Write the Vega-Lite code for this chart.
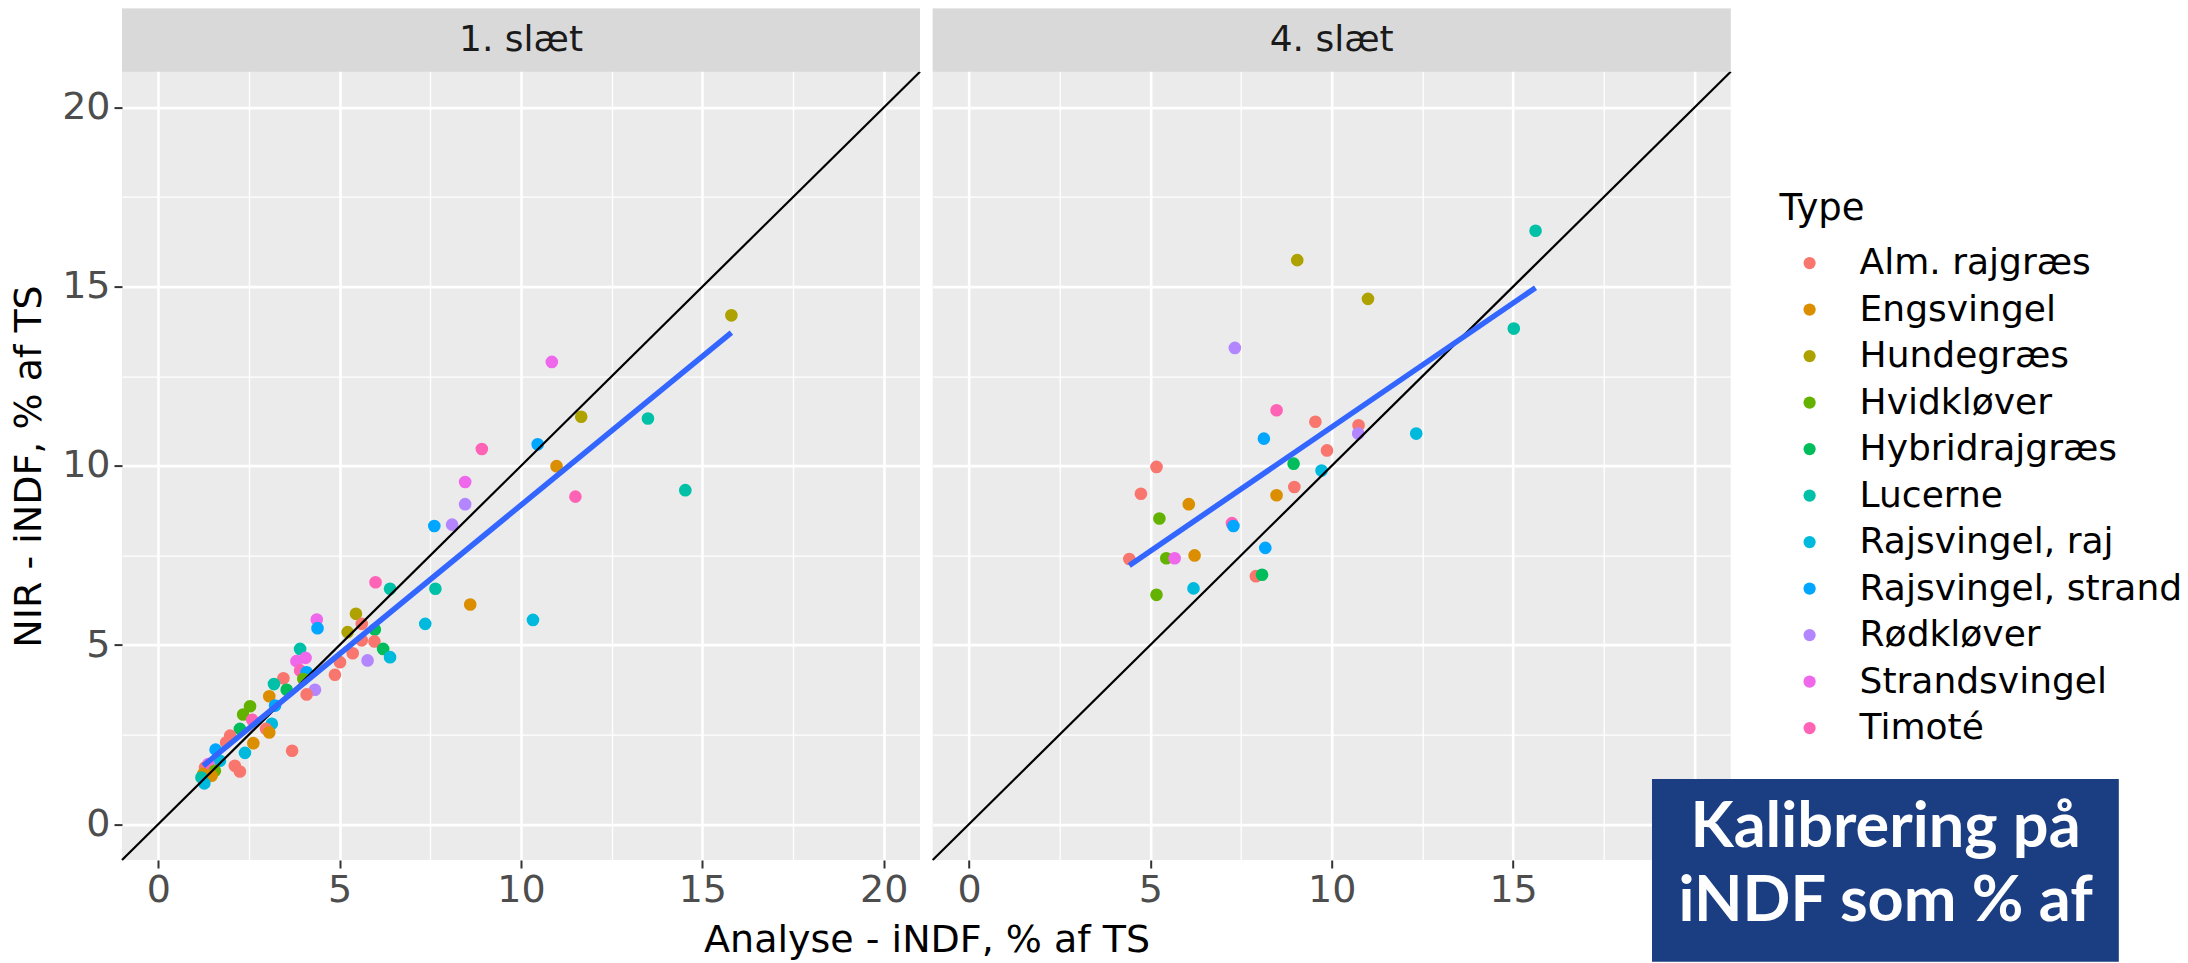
{
  "$schema": "https://vega.github.io/schema/vega-lite/v6.json",
  "padding": {"left": 10, "top": 8.6, "right": 0, "bottom": 0},
  "autosize": {"type": "pad"},
  "background": "#FFFFFF",
  "datasets": {
    "points": [
      {"panel": "1. slæt", "Type": "Hundegræs", "analyse": 15.8, "nir": 14.2},
      {"panel": "1. slæt", "Type": "Strandsvingel", "analyse": 10.85, "nir": 12.9},
      {"panel": "1. slæt", "Type": "Hundegræs", "analyse": 11.66, "nir": 11.37},
      {"panel": "1. slæt", "Type": "Lucerne", "analyse": 13.5, "nir": 11.32},
      {"panel": "1. slæt", "Type": "Rajsvingel, strand", "analyse": 10.46, "nir": 10.6},
      {"panel": "1. slæt", "Type": "Timoté", "analyse": 8.92, "nir": 10.47},
      {"panel": "1. slæt", "Type": "Engsvingel", "analyse": 10.98, "nir": 9.99},
      {"panel": "1. slæt", "Type": "Strandsvingel", "analyse": 8.46, "nir": 9.55},
      {"panel": "1. slæt", "Type": "Timoté", "analyse": 11.5, "nir": 9.14},
      {"panel": "1. slæt", "Type": "Lucerne", "analyse": 14.53, "nir": 9.32},
      {"panel": "1. slæt", "Type": "Rødkløver", "analyse": 8.46, "nir": 8.93},
      {"panel": "1. slæt", "Type": "Rajsvingel, strand", "analyse": 7.61, "nir": 8.32},
      {"panel": "1. slæt", "Type": "Rødkløver", "analyse": 8.1, "nir": 8.36},
      {"panel": "1. slæt", "Type": "Lucerne", "analyse": 7.64, "nir": 6.57},
      {"panel": "1. slæt", "Type": "Engsvingel", "analyse": 8.6, "nir": 6.13},
      {"panel": "1. slæt", "Type": "Rajsvingel, raj", "analyse": 7.36, "nir": 5.59},
      {"panel": "1. slæt", "Type": "Rajsvingel, raj", "analyse": 10.33, "nir": 5.7},
      {"panel": "1. slæt", "Type": "Timoté", "analyse": 5.99, "nir": 6.75},
      {"panel": "1. slæt", "Type": "Lucerne", "analyse": 6.39, "nir": 6.57},
      {"panel": "1. slæt", "Type": "Strandsvingel", "analyse": 4.37, "nir": 5.71},
      {"panel": "1. slæt", "Type": "Rajsvingel, strand", "analyse": 4.39, "nir": 5.47},
      {"panel": "1. slæt", "Type": "Hundegræs", "analyse": 5.45, "nir": 5.87},
      {"panel": "1. slæt", "Type": "Hundegræs", "analyse": 5.22, "nir": 5.36},
      {"panel": "1. slæt", "Type": "Alm. rajgræs", "analyse": 5.61, "nir": 5.59},
      {"panel": "1. slæt", "Type": "Hybridrajgræs", "analyse": 5.97, "nir": 5.43},
      {"panel": "1. slæt", "Type": "Alm. rajgræs", "analyse": 5.61, "nir": 5.13},
      {"panel": "1. slæt", "Type": "Alm. rajgræs", "analyse": 5.96, "nir": 5.1},
      {"panel": "1. slæt", "Type": "Hybridrajgræs", "analyse": 6.2, "nir": 4.89},
      {"panel": "1. slæt", "Type": "Rajsvingel, raj", "analyse": 6.39, "nir": 4.66},
      {"panel": "1. slæt", "Type": "Rødkløver", "analyse": 5.77, "nir": 4.57},
      {"panel": "1. slæt", "Type": "Alm. rajgræs", "analyse": 5.36, "nir": 4.77},
      {"panel": "1. slæt", "Type": "Alm. rajgræs", "analyse": 5.01, "nir": 4.52},
      {"panel": "1. slæt", "Type": "Alm. rajgræs", "analyse": 4.87, "nir": 4.17},
      {"panel": "1. slæt", "Type": "Lucerne", "analyse": 3.91, "nir": 4.89},
      {"panel": "1. slæt", "Type": "Strandsvingel", "analyse": 3.81, "nir": 4.55},
      {"panel": "1. slæt", "Type": "Strandsvingel", "analyse": 4.06, "nir": 4.64},
      {"panel": "1. slæt", "Type": "Timoté", "analyse": 3.91, "nir": 4.29},
      {"panel": "1. slæt", "Type": "Rajsvingel, strand", "analyse": 4.09, "nir": 4.24},
      {"panel": "1. slæt", "Type": "Hvidkløver", "analyse": 4.0, "nir": 4.05},
      {"panel": "1. slæt", "Type": "Alm. rajgræs", "analyse": 3.45, "nir": 4.07},
      {"panel": "1. slæt", "Type": "Lucerne", "analyse": 3.19, "nir": 3.91},
      {"panel": "1. slæt", "Type": "Hybridrajgræs", "analyse": 3.54, "nir": 3.75},
      {"panel": "1. slæt", "Type": "Rødkløver", "analyse": 4.32, "nir": 3.75},
      {"panel": "1. slæt", "Type": "Alm. rajgræs", "analyse": 4.09, "nir": 3.62},
      {"panel": "1. slæt", "Type": "Engsvingel", "analyse": 3.06, "nir": 3.57},
      {"panel": "1. slæt", "Type": "Hvidkløver", "analyse": 2.53, "nir": 3.29},
      {"panel": "1. slæt", "Type": "Hvidkløver", "analyse": 2.34, "nir": 3.06},
      {"panel": "1. slæt", "Type": "Rajsvingel, strand", "analyse": 3.22, "nir": 3.31},
      {"panel": "1. slæt", "Type": "Timoté", "analyse": 2.59, "nir": 2.91},
      {"panel": "1. slæt", "Type": "Hybridrajgræs", "analyse": 2.25, "nir": 2.66},
      {"panel": "1. slæt", "Type": "Alm. rajgræs", "analyse": 1.98, "nir": 2.47},
      {"panel": "1. slæt", "Type": "Alm. rajgræs", "analyse": 1.87, "nir": 2.28},
      {"panel": "1. slæt", "Type": "Rajsvingel, raj", "analyse": 3.13, "nir": 2.8},
      {"panel": "1. slæt", "Type": "Alm. rajgræs", "analyse": 2.97, "nir": 2.66},
      {"panel": "1. slæt", "Type": "Engsvingel", "analyse": 3.06, "nir": 2.56},
      {"panel": "1. slæt", "Type": "Engsvingel", "analyse": 2.62, "nir": 2.26},
      {"panel": "1. slæt", "Type": "Rajsvingel, raj", "analyse": 2.39, "nir": 1.99},
      {"panel": "1. slæt", "Type": "Alm. rajgræs", "analyse": 3.69, "nir": 2.05},
      {"panel": "1. slæt", "Type": "Rajsvingel, strand", "analyse": 1.58, "nir": 2.08},
      {"panel": "1. slæt", "Type": "Alm. rajgræs", "analyse": 2.11, "nir": 1.63},
      {"panel": "1. slæt", "Type": "Alm. rajgræs", "analyse": 2.25, "nir": 1.47},
      {"panel": "1. slæt", "Type": "Rajsvingel, raj", "analyse": 1.7, "nir": 1.77},
      {"panel": "1. slæt", "Type": "Strandsvingel", "analyse": 1.38, "nir": 1.68},
      {"panel": "1. slæt", "Type": "Alm. rajgræs", "analyse": 1.29, "nir": 1.58},
      {"panel": "1. slæt", "Type": "Timoté", "analyse": 1.42, "nir": 1.49},
      {"panel": "1. slæt", "Type": "Hvidkløver", "analyse": 1.56, "nir": 1.49},
      {"panel": "1. slæt", "Type": "Engsvingel", "analyse": 1.47, "nir": 1.35},
      {"panel": "1. slæt", "Type": "Engsvingel", "analyse": 1.24, "nir": 1.4},
      {"panel": "1. slæt", "Type": "Lucerne", "analyse": 1.19, "nir": 1.3},
      {"panel": "1. slæt", "Type": "Rajsvingel, raj", "analyse": 1.27, "nir": 1.14},
      {"panel": "4. slæt", "Type": "Lucerne", "analyse": 15.62, "nir": 16.56},
      {"panel": "4. slæt", "Type": "Hundegræs", "analyse": 9.05, "nir": 15.74},
      {"panel": "4. slæt", "Type": "Hundegræs", "analyse": 11.0, "nir": 14.66},
      {"panel": "4. slæt", "Type": "Lucerne", "analyse": 15.02, "nir": 13.83},
      {"panel": "4. slæt", "Type": "Rødkløver", "analyse": 7.33, "nir": 13.29},
      {"panel": "4. slæt", "Type": "Timoté", "analyse": 8.48, "nir": 11.55},
      {"panel": "4. slæt", "Type": "Alm. rajgræs", "analyse": 9.55, "nir": 11.23},
      {"panel": "4. slæt", "Type": "Alm. rajgræs", "analyse": 10.74, "nir": 11.13},
      {"panel": "4. slæt", "Type": "Rødkløver", "analyse": 10.73, "nir": 10.9},
      {"panel": "4. slæt", "Type": "Rajsvingel, raj", "analyse": 12.33, "nir": 10.9},
      {"panel": "4. slæt", "Type": "Rajsvingel, strand", "analyse": 8.13, "nir": 10.76},
      {"panel": "4. slæt", "Type": "Alm. rajgræs", "analyse": 9.87, "nir": 10.43},
      {"panel": "4. slæt", "Type": "Hybridrajgræs", "analyse": 8.95, "nir": 10.06},
      {"panel": "4. slæt", "Type": "Rajsvingel, raj", "analyse": 9.72, "nir": 9.87},
      {"panel": "4. slæt", "Type": "Alm. rajgræs", "analyse": 5.17, "nir": 9.97},
      {"panel": "4. slæt", "Type": "Alm. rajgræs", "analyse": 4.74, "nir": 9.22},
      {"panel": "4. slæt", "Type": "Alm. rajgræs", "analyse": 8.97, "nir": 9.41},
      {"panel": "4. slæt", "Type": "Engsvingel", "analyse": 8.48, "nir": 9.18},
      {"panel": "4. slæt", "Type": "Engsvingel", "analyse": 6.06, "nir": 8.93},
      {"panel": "4. slæt", "Type": "Hvidkløver", "analyse": 5.25, "nir": 8.53},
      {"panel": "4. slæt", "Type": "Timoté", "analyse": 7.25, "nir": 8.4},
      {"panel": "4. slæt", "Type": "Rajsvingel, strand", "analyse": 7.29, "nir": 8.32},
      {"panel": "4. slæt", "Type": "Rajsvingel, strand", "analyse": 8.17, "nir": 7.71},
      {"panel": "4. slæt", "Type": "Alm. rajgræs", "analyse": 4.42, "nir": 7.4},
      {"panel": "4. slæt", "Type": "Hvidkløver", "analyse": 5.44, "nir": 7.42},
      {"panel": "4. slæt", "Type": "Strandsvingel", "analyse": 5.67, "nir": 7.42},
      {"panel": "4. slæt", "Type": "Engsvingel", "analyse": 6.22, "nir": 7.5},
      {"panel": "4. slæt", "Type": "Alm. rajgræs", "analyse": 7.91, "nir": 6.92},
      {"panel": "4. slæt", "Type": "Hybridrajgræs", "analyse": 8.08, "nir": 6.96},
      {"panel": "4. slæt", "Type": "Rajsvingel, raj", "analyse": 6.19, "nir": 6.58},
      {"panel": "4. slæt", "Type": "Hvidkløver", "analyse": 5.17, "nir": 6.4}
    ],
    "fit": [
      {"panel": "1. slæt", "analyse": 1.24, "nir": 1.63},
      {"panel": "1. slæt", "analyse": 15.8, "nir": 13.72},
      {"panel": "4. slæt", "analyse": 4.42, "nir": 7.22},
      {"panel": "4. slæt", "analyse": 15.62, "nir": 14.97}
    ],
    "strips": [
      {"panel": "1. slæt"},
      {"panel": "4. slæt"}
    ],
    "one": [{"k": 1}],
    "note": [{"note": "Kalibrering på\niNDF som % af"}]
  },
  "spacing": 12.7,
  "bounds": "flush",
  "hconcat": [
    {
      "width": 798,
      "height": 851.4,
      "layer": [
        {
          "data": {"name": "points"},
          "transform": [{"filter": "datum.panel === '1. slæt'"}],
          "mark": {"type": "circle", "size": 160, "opacity": 1},
          "encoding": {
            "x": {"field": "analyse", "type": "quantitative", "scale": {"domain": [-1, 21], "nice": false, "zero": false},
              "axis": {"values": [0, 2.5, 5, 7.5, 10, 12.5, 15, 17.5, 20], "grid": true,
                "gridWidth": {"condition": {"test": "datum.value % 5 === 0", "value": 2.6}, "value": 1.3},
                "tickOpacity": {"condition": {"test": "datum.value % 5 === 0", "value": 1}, "value": 0},
                "labelExpr": "datum.value % 5 === 0 ? datum.label : ''", "labelPadding": 3,
                "title": "Analyse - iNDF, % af TS", "titleX": 804.6, "titleY": 61, "titleBaseline": "top"}},
            "y": {"field": "nir", "type": "quantitative", "scale": {"domain": [-1, 22.76], "nice": false, "zero": false},
              "axis": {"values": [0, 2.5, 5, 7.5, 10, 12.5, 15, 17.5, 20], "grid": true,
                "gridWidth": {"condition": {"test": "datum.value % 5 === 0", "value": 2.6}, "value": 1.3},
                "tickOpacity": {"condition": {"test": "datum.value % 5 === 0", "value": 1}, "value": 0},
                "labelExpr": "datum.value % 5 === 0 ? datum.label : ''", "labelPadding": 4,
                "title": "NIR - iNDF, % af TS", "titleX": -93, "titleY": 457.4, "titleBaseline": "middle"}},
            "color": {"field": "Type", "type": "nominal",
              "scale": {"domain": ["Alm. rajgræs", "Engsvingel", "Hundegræs", "Hvidkløver", "Hybridrajgræs", "Lucerne", "Rajsvingel, raj", "Rajsvingel, strand", "Rødkløver", "Strandsvingel", "Timoté"],
                "range": ["#F8766D", "#DB8E00", "#AEA200", "#64B200", "#00BD5C", "#00C1A7", "#00BADE", "#00A6FF", "#B385FF", "#EF67EB", "#FF63B6"]},
              "legend": {"orient": "none", "legendX": 1657.6, "legendY": 182.5, "title": "Type", "titleFontSize": 37, "titleFontWeight": "normal", "titleColor": "#000000", "titlePadding": 17, "labelFontSize": 36, "labelColor": "#000000", "labelLimit": 600, "symbolType": "circle", "symbolSize": 150, "symbolStrokeWidth": 0, "symbolOffset": 12, "labelOffset": 32, "rowPadding": 10.5, "padding": 0, "symbolOpacity": 1}}
          }
        },
        {
          "data": {"name": "one"},
          "mark": {"type": "rule", "color": "#000000", "strokeWidth": 2.2},
          "encoding": {
            "x": {"datum": -1, "type": "quantitative", "scale": {"domain": [-1, 21], "nice": false, "zero": false}},
            "y": {"datum": -1, "type": "quantitative", "scale": {"domain": [-1, 22.76], "nice": false, "zero": false}},
            "x2": {"datum": 21},
            "y2": {"datum": 21}
          }
        },
        {
          "data": {"name": "fit"},
          "transform": [{"filter": "datum.panel === '1. slæt'"}],
          "mark": {"type": "line", "color": "#3366FF", "strokeWidth": 5.5},
          "encoding": {
            "x": {"field": "analyse", "type": "quantitative", "scale": {"domain": [-1, 21], "nice": false, "zero": false}},
            "y": {"field": "nir", "type": "quantitative", "scale": {"domain": [-1, 22.76], "nice": false, "zero": false}}
          }
        },
        {
          "data": {"name": "strips"},
          "transform": [{"filter": "datum.panel === '1. slæt'"}],
          "mark": {"type": "rect", "color": "#D9D9D9"},
          "encoding": {
            "x": {"datum": -1, "type": "quantitative", "scale": {"domain": [-1, 21], "nice": false, "zero": false}},
            "x2": {"datum": 21},
            "y": {"datum": 21, "type": "quantitative", "scale": {"domain": [-1, 22.76], "nice": false, "zero": false}},
            "y2": {"datum": 22.76}
          }
        },
        {
          "data": {"name": "strips"},
          "transform": [{"filter": "datum.panel === '1. slæt'"}],
          "mark": {"type": "text", "fontSize": 36, "color": "#1A1A1A", "align": "center", "baseline": "middle"},
          "encoding": {
            "x": {"datum": 10, "type": "quantitative", "scale": {"domain": [-1, 21], "nice": false, "zero": false}},
            "y": {"datum": 21.88, "type": "quantitative", "scale": {"domain": [-1, 22.76], "nice": false, "zero": false}},
            "text": {"field": "panel"}
          }
        }
      ]
    },
    {
      "width": 798,
      "height": 851.4,
      "layer": [
        {
          "data": {"name": "points"},
          "transform": [{"filter": "datum.panel === '4. slæt'"}],
          "mark": {"type": "circle", "size": 160, "opacity": 1},
          "encoding": {
            "x": {"field": "analyse", "type": "quantitative", "scale": {"domain": [-1, 21], "nice": false, "zero": false},
              "axis": {"values": [0, 2.5, 5, 7.5, 10, 12.5, 15, 17.5, 20], "grid": true,
                "gridWidth": {"condition": {"test": "datum.value % 5 === 0", "value": 2.6}, "value": 1.3},
                "tickOpacity": {"condition": {"test": "datum.value % 5 === 0 && datum.value < 20", "value": 1}, "value": 0},
                "labelExpr": "datum.value % 5 === 0 && datum.value < 20 ? datum.label : ''", "labelPadding": 3, "title": null}},
            "y": {"field": "nir", "type": "quantitative", "scale": {"domain": [-1, 22.76], "nice": false, "zero": false},
              "axis": {"values": [0, 2.5, 5, 7.5, 10, 12.5, 15, 17.5, 20], "grid": true,
                "gridWidth": {"condition": {"test": "datum.value % 5 === 0", "value": 2.6}, "value": 1.3},
                "labels": false, "ticks": false, "title": null}},
            "color": {"field": "Type", "type": "nominal",
              "scale": {"domain": ["Alm. rajgræs", "Engsvingel", "Hundegræs", "Hvidkløver", "Hybridrajgræs", "Lucerne", "Rajsvingel, raj", "Rajsvingel, strand", "Rødkløver", "Strandsvingel", "Timoté"],
                "range": ["#F8766D", "#DB8E00", "#AEA200", "#64B200", "#00BD5C", "#00C1A7", "#00BADE", "#00A6FF", "#B385FF", "#EF67EB", "#FF63B6"]},
              "legend": {"orient": "none", "legendX": 1657.6, "legendY": 182.5, "title": "Type", "titleFontSize": 37, "titleFontWeight": "normal", "titleColor": "#000000", "titlePadding": 17, "labelFontSize": 36, "labelColor": "#000000", "labelLimit": 600, "symbolType": "circle", "symbolSize": 150, "symbolStrokeWidth": 0, "symbolOffset": 12, "labelOffset": 32, "rowPadding": 10.5, "padding": 0, "symbolOpacity": 1}}
          }
        },
        {
          "data": {"name": "one"},
          "mark": {"type": "rule", "color": "#000000", "strokeWidth": 2.2},
          "encoding": {
            "x": {"datum": -1, "type": "quantitative", "scale": {"domain": [-1, 21], "nice": false, "zero": false}},
            "y": {"datum": -1, "type": "quantitative", "scale": {"domain": [-1, 22.76], "nice": false, "zero": false}},
            "x2": {"datum": 21},
            "y2": {"datum": 21}
          }
        },
        {
          "data": {"name": "fit"},
          "transform": [{"filter": "datum.panel === '4. slæt'"}],
          "mark": {"type": "line", "color": "#3366FF", "strokeWidth": 5.5},
          "encoding": {
            "x": {"field": "analyse", "type": "quantitative", "scale": {"domain": [-1, 21], "nice": false, "zero": false}},
            "y": {"field": "nir", "type": "quantitative", "scale": {"domain": [-1, 22.76], "nice": false, "zero": false}}
          }
        },
        {
          "data": {"name": "strips"},
          "transform": [{"filter": "datum.panel === '4. slæt'"}],
          "mark": {"type": "rect", "color": "#D9D9D9"},
          "encoding": {
            "x": {"datum": -1, "type": "quantitative", "scale": {"domain": [-1, 21], "nice": false, "zero": false}},
            "x2": {"datum": 21},
            "y": {"datum": 21, "type": "quantitative", "scale": {"domain": [-1, 22.76], "nice": false, "zero": false}},
            "y2": {"datum": 22.76}
          }
        },
        {
          "data": {"name": "strips"},
          "transform": [{"filter": "datum.panel === '4. slæt'"}],
          "mark": {"type": "text", "fontSize": 36, "color": "#1A1A1A", "align": "center", "baseline": "middle"},
          "encoding": {
            "x": {"datum": 10, "type": "quantitative", "scale": {"domain": [-1, 21], "nice": false, "zero": false}},
            "y": {"datum": 21.88, "type": "quantitative", "scale": {"domain": [-1, 22.76], "nice": false, "zero": false}},
            "text": {"field": "panel"}
          }
        },
        {
          "data": {"name": "note"},
          "mark": {"type": "rect", "color": "#1B3D82"},
          "encoding": {
            "x": {"datum": 18.83, "type": "quantitative", "scale": {"domain": [-1, 21], "nice": false, "zero": false}},
            "x2": {"datum": 31.7},
            "y": {"datum": 1.26, "type": "quantitative", "scale": {"domain": [-1, 22.76], "nice": false, "zero": false}},
            "y2": {"datum": -3.84}
          }
        },
        {
          "data": {"name": "note"},
          "mark": {"type": "text", "font": "Lato", "fontWeight": "bold", "fontSize": 63, "color": "#FFFFFF", "align": "center", "baseline": "alphabetic", "lineBreak": "\n", "lineHeight": 74},
          "encoding": {
            "x": {"datum": 25.27, "type": "quantitative", "scale": {"domain": [-1, 21], "nice": false, "zero": false}},
            "y": {"datum": -0.64, "type": "quantitative", "scale": {"domain": [-1, 22.76], "nice": false, "zero": false}},
            "text": {"field": "note"}
          }
        }
      ]
    }
  ],
  "resolve": {"scale": {"color": "shared"}, "legend": {"color": "shared"}},
  "config": {
    "font": "DejaVu Sans",
    "view": {"fill": "#EBEBEB", "stroke": null},
    "axis": {"gridColor": "#FFFFFF", "domain": false, "tickColor": "#333333", "tickSize": 8, "tickWidth": 2,
      "labelFontSize": 38, "labelColor": "#4D4D4D", "labelFont": "DejaVu Sans", "titleFont": "DejaVu Sans",
      "titleFontSize": 38, "titleColor": "#000000", "titleFontWeight": "normal", "labelOverlap": false, "labelFlush": false},
    "legend": {"labelFont": "DejaVu Sans", "titleFont": "DejaVu Sans"}
  }
}
